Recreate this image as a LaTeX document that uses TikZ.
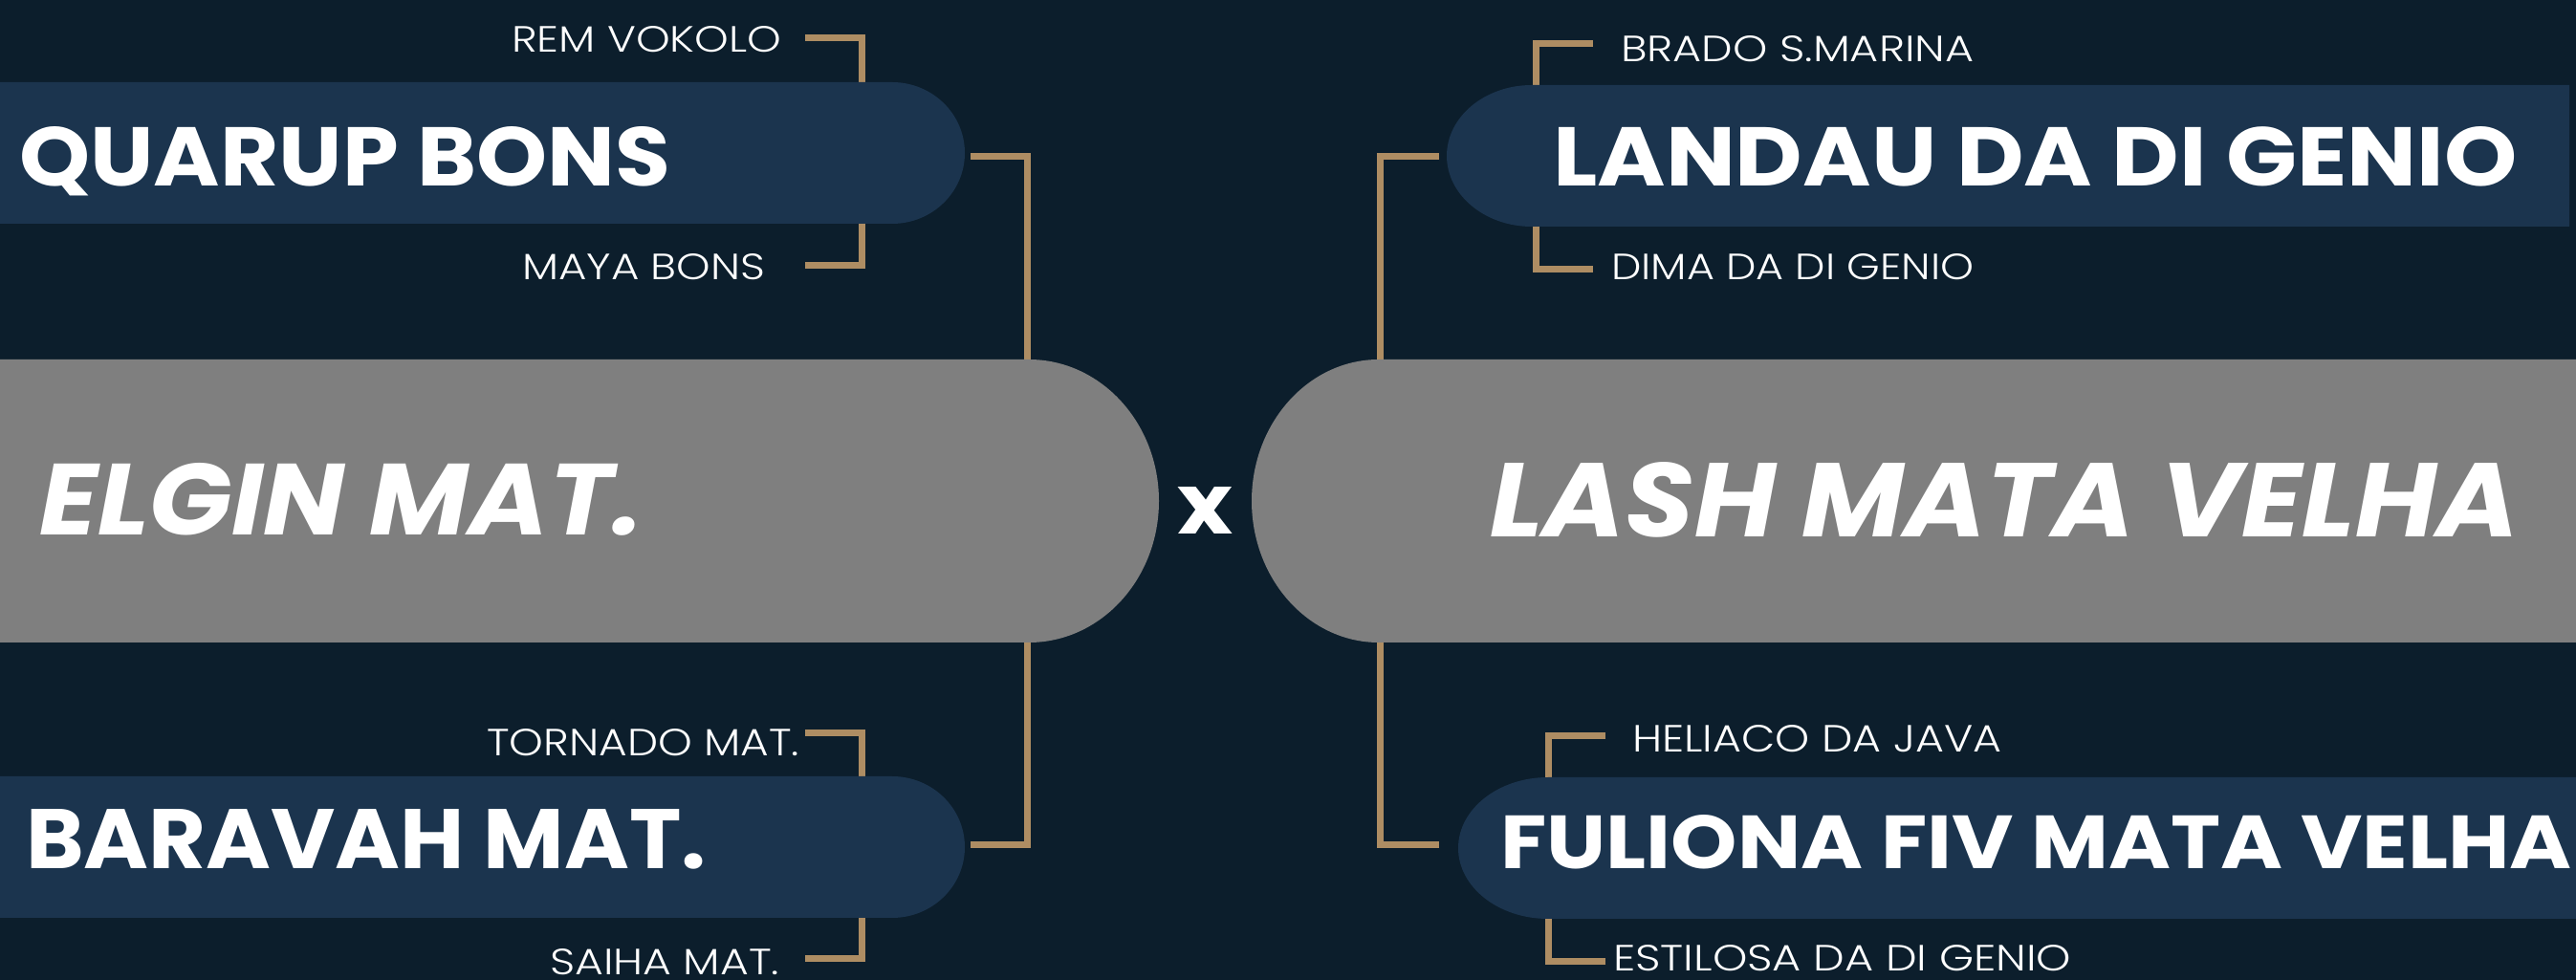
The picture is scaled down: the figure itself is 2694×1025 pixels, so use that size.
\documentclass[tikz,border=0pt]{standalone}
\usepackage{fontspec}
\usepackage{graphicx}
\setmainfont{Poppins}
\IfFontExistsTF{Poppins Light}{\newfontfamily\lightf{Poppins Light}}{\newfontfamily\lightf{Poppins}}
\definecolor{bgc}{HTML}{0C1E2C}
\definecolor{teamblue}{HTML}{1B344E}
\definecolor{clubgray}{HTML}{7F7F7F}
\definecolor{gold}{HTML}{AE8D63}
\newcommand\fitbox[3]{\resizebox{#1pt}{#2pt}{#3}}
\tikzset{
  conn/.style={draw=gold, line width=7pt, line join=miter},
  bigtxt/.style={anchor=base west, inner sep=0pt, text=white, font=\bfseries},
  clubtxt/.style={anchor=base west, inner sep=0pt, text=white, font=\bfseries\itshape},
  smalltxt/.style={anchor=base west, inner sep=0pt, text=white, font=\lightf},
}
\begin{document}
\begin{tikzpicture}[x=1pt,y=1pt]
\fill[bgc] (0,0) rectangle (2694,1025);
\useasboundingbox (0,0) rectangle (2694,1025);

% connector end points
\coordinate (remv-e) at (842,985);
\coordinate (quarup-t) at (901.5,930);
\coordinate (maya-e) at (842,747);
\coordinate (quarup-b) at (901.5,800);
\coordinate (torn-e) at (842,258.5);
\coordinate (barav-t) at (901.5,205);
\coordinate (saiha-e) at (842,22);
\coordinate (barav-b) at (901.5,75);
\coordinate (quarup-r) at (1015,861.5);
\coordinate (elgin-t) at (1074.5,640);
\coordinate (barav-r) at (1015,141);
\coordinate (elgin-b) at (1074.5,362);
\coordinate (brado-w) at (1666,979.5);
\coordinate (landau-t) at (1606,930);
\coordinate (dima-w) at (1666,743);
\coordinate (landau-b) at (1606,795);
\coordinate (heli-w) at (1679,255.5);
\coordinate (fuli-t) at (1619,205);
\coordinate (esti-w) at (1679,19.5);
\coordinate (fuli-b) at (1619,70);
\coordinate (landau-l) at (1505,861.5);
\coordinate (lash-t) at (1443.5,640);
\coordinate (fuli-l) at (1505,141);
\coordinate (lash-b) at (1443.5,362);

% connectors
\draw[conn] (remv-e) -| (quarup-t);
\draw[conn] (maya-e) -| (quarup-b);
\draw[conn] (torn-e) -| (barav-t);
\draw[conn] (saiha-e) -| (barav-b);
\draw[conn] (quarup-r) -| (elgin-t);
\draw[conn] (barav-r) -| (elgin-b);
\draw[conn] (brado-w) -| (landau-t);
\draw[conn] (dima-w) -| (landau-b);
\draw[conn] (heli-w) -| (fuli-t);
\draw[conn] (esti-w) -| (fuli-b);
\draw[conn] (landau-l) -| (lash-t);
\draw[conn] (fuli-l) -| (lash-b);

% boxes
\fill[teamblue] (-5,939) -- (933,939) arc[start angle=90,end angle=-90,x radius=76,y radius=74] -- (-5,791) -- cycle;
\fill[teamblue] (-5,213) -- (933,213) arc[start angle=90,end angle=-90,x radius=76,y radius=74] -- (-5,65) -- cycle;
\fill[teamblue] (2687,936) -- (1602,936) arc[start angle=90,end angle=270,x radius=89,y radius=74] -- (2687,788) -- cycle;
\fill[teamblue] (2700,212) -- (1619,212) arc[start angle=90,end angle=270,x radius=94,y radius=74] -- (2700,64) -- cycle;
\fill[clubgray] (-5,649) -- (1076,649) arc[start angle=90,end angle=-90,x radius=136,y radius=148] -- (-5,353) -- cycle;
\fill[clubgray] (2700,649) -- (1442,649) arc[start angle=90,end angle=270,x radius=133,y radius=148] -- (2700,353) -- cycle;

% texts
\node[bigtxt] (quarup) at (20,830) {\fitbox{681}{62}{QUARUP BONS}};
\node[bigtxt] (barav) at (27,117) {\fitbox{711}{62}{BARAVAH MAT.}};
\node[bigtxt] (landau) at (1624,830) {\fitbox{1008}{62}{LANDAU DA DI GENIO}};
\node[bigtxt] (fuli) at (1569,116) {\fitbox{1120}{56}{FULIONA FIV MATA VELHA}};
\node[clubtxt] (elgin) at (41,465) {\fitbox{631}{75}{ELGIN MAT.}};
\node[clubtxt] (lash) at (1558,463) {\fitbox{1076}{78}{LASH MATA VELHA}};
\node[bigtxt] (vs) at (1231,466) {\fitbox{58}{49}{x}};

\node[smalltxt] (remv) at (535,970) {\fitbox{282}{27}{REM VOKOLO}};
\node[smalltxt] (maya) at (546,732) {\fitbox{254}{27}{MAYA BONS}};
\node[smalltxt] (torn) at (509,234) {\fitbox{327}{28}{TORNADO MAT.}};
\node[smalltxt] (saiha) at (575,5) {\fitbox{240}{27}{SAIHA MAT.}};
\node[smalltxt] (brado) at (1695,960) {\fitbox{369}{27}{BRADO S.MARINA}};
\node[smalltxt] (dima) at (1685,732) {\fitbox{379}{27}{DIMA DA DI GENIO}};
\node[smalltxt] (heli) at (1707,238) {\fitbox{386}{28}{HELIACO DA JAVA}};
\node[smalltxt] (esti) at (1687,9) {\fitbox{479}{27}{ESTILOSA DA DI GENIO}};
\end{tikzpicture}
\end{document}
